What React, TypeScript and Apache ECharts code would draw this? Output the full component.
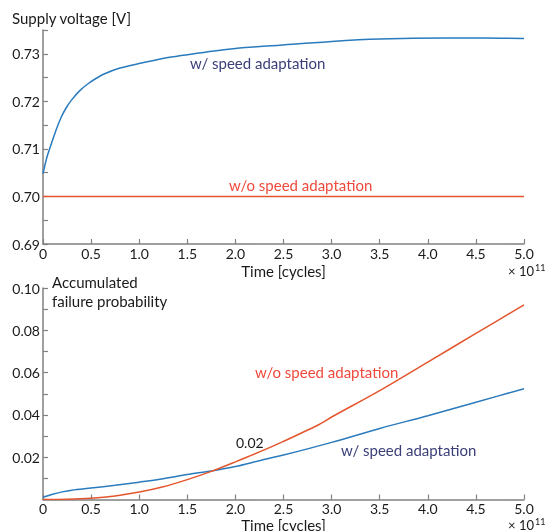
import React, { useEffect, useRef } from "react";
import * as echarts from "echarts";

// Top panel: supply voltage [V] vs time [1e11 cycles]
const vTimeWith = [0, 0.04, 0.087, 0.14, 0.19, 0.24, 0.294, 0.38, 0.468, 0.55, 0.641, 0.8, 0.988, 1.15, 1.334, 1.6, 1.82, 2.1, 2.46, 3.0, 3.5, 4.2, 4.6, 5.0];
const vWith = [0.7048, 0.7082, 0.7111, 0.7142, 0.7167, 0.7186, 0.7202, 0.7222, 0.7237, 0.7248, 0.7258, 0.727, 0.7279, 0.7286, 0.7293, 0.7301, 0.7307, 0.7313, 0.7318, 0.7326, 0.7331, 0.7333, 0.7333, 0.7332];
const vTimeWithout = [0, 5.0];
const vWithout = [0.7, 0.7];

// Bottom panel: accumulated failure probability
const pTimeWith = [0, 0.1, 0.2, 0.3, 0.5, 0.75, 1.0, 1.25, 1.5, 1.75, 2.0, 2.27, 2.5, 3.0, 3.5, 4.0, 4.5, 5.0];
const pWith = [0.001, 0.0025, 0.0036, 0.0044, 0.0054, 0.0067, 0.0082, 0.0098, 0.0118, 0.0135, 0.0156, 0.0186, 0.021, 0.027, 0.0336, 0.0396, 0.046, 0.0524];
const pTimeWithout = [0, 0.25, 0.5, 0.75, 1.0, 1.25, 1.5, 1.75, 2.0, 2.25, 2.5, 2.85, 3.0, 3.5, 4.0, 4.5, 5.0];
const pWithout = [0, 0.0001, 0.0006, 0.0017, 0.0035, 0.006, 0.0094, 0.0133, 0.0178, 0.0225, 0.0275, 0.035, 0.039, 0.0515, 0.065, 0.0785, 0.092];

const xTicks = ["0", "0.5", "1.0", "1.5", "2.0", "2.5", "3.0", "3.5", "4.0", "4.5", "5.0"];

const FONT = "Lato";
const BLUE = "#2a7bbd";
const RED = "#e4572e";
const NAVY = "#3b3f78";
const RED_TEXT = "#ee4a3c";
const AXIS = "#808080";

const zip = (xs: number[], ys: number[]) => xs.map((x, i) => [x, ys[i]]);

export default function App() {
  const ref = useRef<HTMLDivElement>(null);
  useEffect(() => {
    if (!ref.current) return;
    const chart = echarts.init(ref.current, null, { renderer: "svg" });
    const xAxisBase = (gridIndex: number, nameGap: number) => ({
      type: "value",
      gridIndex,
      min: 0,
      max: 5,
      interval: 0.5,
      name: "Time [cycles]",
      nameLocation: "middle",
      nameGap,
      nameTextStyle: { fontFamily: FONT, fontSize: 15, color: "#1a1a1a" },
      axisLine: { show: true, lineStyle: { color: AXIS, width: 1.5 } },
      axisTick: { show: true, inside: true, length: 5, lineStyle: { color: AXIS, width: 1.2 } },
      splitLine: { show: false },
      axisLabel: {
        fontFamily: FONT,
        fontSize: 14,
        color: "#1a1a1a",
        margin: 2,
        formatter: (v: number) => xTicks[Math.round(v * 2)] ?? "",
      },
    });
    const text = (t: string, x: number, y: number, fill: string, size = 15, align = "left") => ({
      type: "text",
      x,
      y,
      silent: true,
      style: { text: t, fill, font: `${size}px ${FONT}`, textAlign: align, textVerticalAlign: "middle" },
    });
    chart.setOption({
      animation: false,
      grid: [
        { left: 43, top: 30, width: 481, height: 214, outerBoundsMode: "none", containLabel: false },
        { left: 43, top: 288, width: 481, height: 211.5, outerBoundsMode: "none", containLabel: false },
      ],
      xAxis: [xAxisBase(0, 19), xAxisBase(1, 18)],
      yAxis: [
        {
          type: "value",
          gridIndex: 0,
          min: 0.69,
          max: 0.735,
          interval: 0.005,
          axisLine: { show: true, lineStyle: { color: AXIS, width: 1.5 } },
          axisTick: { show: true, inside: true, length: 5, lineStyle: { color: AXIS, width: 1.2 } },
          splitLine: { show: false },
          axisLabel: {
            fontFamily: FONT,
            fontSize: 14,
            color: "#1a1a1a",
            margin: 3,
            formatter: (v: number) => {
              const k = Math.round(v * 1000);
              return k % 10 === 0 && k <= 730 ? (k / 1000).toFixed(2) : "";
            },
          },
        },
        {
          type: "value",
          gridIndex: 1,
          min: 0,
          max: 0.1,
          interval: 0.01,
          axisLine: { show: true, lineStyle: { color: AXIS, width: 1.5 } },
          axisTick: { show: true, inside: true, length: 5, lineStyle: { color: AXIS, width: 1.2 } },
          splitLine: { show: false },
          axisLabel: {
            fontFamily: FONT,
            fontSize: 14,
            color: "#1a1a1a",
            margin: 3,
            formatter: (v: number) => {
              const k = Math.round(v * 100);
              return k > 0 && k % 2 === 0 ? (k / 100).toFixed(2) : "";
            },
          },
        },
      ],
      series: [
        { type: "line", xAxisIndex: 0, yAxisIndex: 0, data: zip(vTimeWith, vWith), showSymbol: false, smooth: 0.3, lineStyle: { color: BLUE, width: 1.5 } },
        { type: "line", xAxisIndex: 0, yAxisIndex: 0, data: zip(vTimeWithout, vWithout), showSymbol: false, lineStyle: { color: RED, width: 1.5 } },
        { type: "line", xAxisIndex: 1, yAxisIndex: 1, data: zip(pTimeWith, pWith), showSymbol: false, smooth: 0.3, lineStyle: { color: BLUE, width: 1.5 } },
        { type: "line", xAxisIndex: 1, yAxisIndex: 1, data: zip(pTimeWithout, pWithout), showSymbol: false, smooth: 0.3, lineStyle: { color: RED, width: 1.5 } },
      ],
      graphic: [
        text("Supply voltage [V]", 12, 18, "#1a1a1a", 15),
        text("Accumulated", 52, 282, "#1a1a1a", 15),
        text("failure probability", 52, 301, "#1a1a1a", 15),
        text("w/ speed adaptation", 190, 63, NAVY, 15),
        text("w/o speed adaptation", 229, 185, RED_TEXT, 15),
        text("w/o speed adaptation", 255, 372, RED_TEXT, 15),
        text("0.02", 236, 442, "#1a1a1a", 14),
        text("w/ speed adaptation", 341, 450, NAVY, 15),
        text("× 10", 534, 271, "#1a1a1a", 13, "right"),
        text("11", 535, 267, "#1a1a1a", 9),
        text("× 10", 534, 525, "#1a1a1a", 13, "right"),
        text("11", 535, 521, "#1a1a1a", 9),
      ],
    });
    return () => chart.dispose();
  }, []);
  return <div ref={ref} style={{ position: "fixed", left: 0, top: 0, width: 548, height: 531 }} />;
}
